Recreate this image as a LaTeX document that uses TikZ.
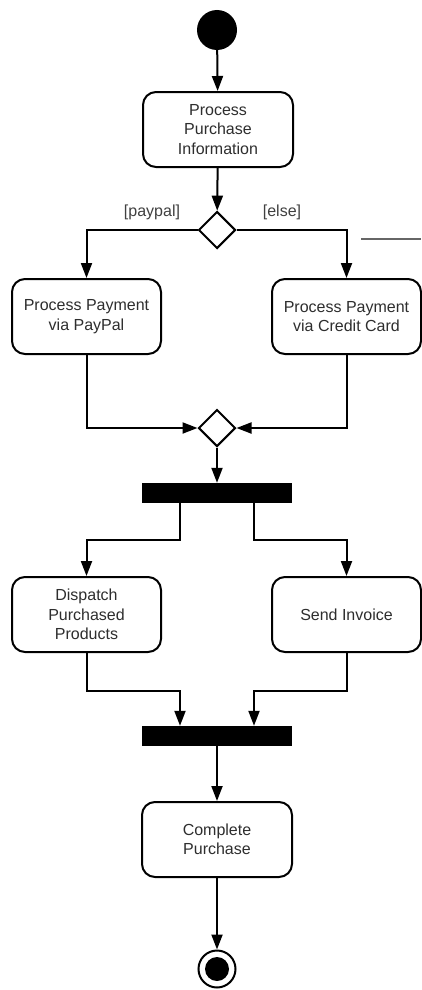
\documentclass[tikz,border=0pt]{standalone}
\usepackage{fontspec}
\setmainfont{Liberation Sans}
\usetikzlibrary{shapes.geometric,arrows.meta}

\tikzset{
  action/.style={draw, line width=2pt, rounded corners=13pt, align=center,
    minimum width=149pt, minimum height=75pt, inner sep=0pt,
    text=black!82, font=\fontsize{16}{19.5}\selectfont},
  decision/.style={draw, line width=2pt, diamond, minimum width=37pt,
    minimum height=37pt, inner sep=0pt, fill=white},
  bar/.style={fill=black, minimum width=150pt, minimum height=20pt, inner sep=0pt},
  guard/.style={text=black!75, font=\fontsize{16}{19}\selectfont, inner sep=0pt},
  flow/.style={line width=2pt, -{Triangle[length=15pt,width=11pt]}},
}

\begin{document}
\begin{tikzpicture}[x=1pt, y=-1pt]
  \useasboundingbox[fill=white] (0,0) rectangle (421,990);

  % initial node
  \node[circle, fill=black, minimum size=40pt, inner sep=0pt] (start) at (217,30) {};

  % actions and control nodes
  \node[action, minimum width=150pt] (ppi) at (218,129.5) {Process\\Purchase\\Information};
  \node[decision] (dec) at (217,230) {};
  \node[action] (pp) at (86.5,316.5) {Process Payment\\via PayPal};
  \node[action] (cc) at (346.5,316.5) {Process Payment\\via Credit Card};
  \node[decision] (mrg) at (217,428) {};
  \node[bar] (fork) at (217,493) {};
  \node[action] (dpp) at (86.5,614.5) {Dispatch\\Purchased\\Products};
  \node[action] (inv) at (346.5,614.5) {Send Invoice};
  \node[bar] (join) at (217,736) {};
  \node[action, minimum width=150pt] (cp) at (217,839.5) {Complete\\Purchase};

  % final node
  \node[circle, draw, line width=2pt, minimum size=37pt, inner sep=0pt] (end) at (217,969) {};
  \node[circle, fill=black, minimum size=24pt, inner sep=0pt] (endin) at (end.center) {};

  % guards
  \node[guard] (gpay) at (152,212) {[paypal]};
  \node[guard] (gelse) at (282,212) {[else]};

  % loose line at the right border
  \coordinate (loosea) at (361,239);
  \coordinate (looseb) at (421,239);
  \draw[black!60, line width=1.6pt] (loosea) -- (looseb);

  % control flows
  \draw[flow] (start) -- (ppi);
  \draw[flow] (ppi) -- (dec);
  \draw[flow] (dec.west) -| (pp.north);
  \draw[flow] (dec.east) -| (cc.north);
  \draw[flow] (pp.south) |- (mrg.west);
  \draw[flow] (cc.south) |- (mrg.east);
  \draw[flow] (mrg) -- (fork);
  \draw[flow] ([xshift=-37pt]fork.south) -- ++(0,37) -| (dpp.north);
  \draw[flow] ([xshift=37pt]fork.south) -- ++(0,37) -| (inv.north);
  \draw[flow] (dpp.south) -- ++(0,38) -| ([xshift=-37pt]join.north);
  \draw[flow] (inv.south) -- ++(0,38) -| ([xshift=37pt]join.north);
  \draw[flow] (join) -- (cp);
  \draw[flow] (cp) -- (end);
\end{tikzpicture}
\end{document}
